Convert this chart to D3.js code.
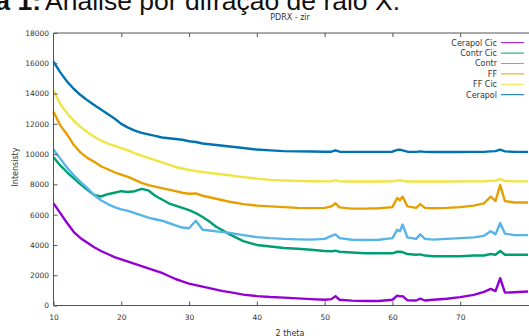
<!DOCTYPE html>
<html>
<head>
<meta charset="utf-8">
<script src="https://cdn.jsdelivr.net/npm/d3@7"></script>
<style>
  html, body { margin: 0; padding: 0; background: #fff; }
  svg { display: block; }
  text { font-family: "DejaVu Sans", sans-serif; fill: #333; }
</style>
</head>
<body>
<svg id="chart" width="529" height="336"></svg>
<script>
// 2 theta positions shared by every scan
const theta = [10, 11, 12, 13, 14, 15, 16, 17, 18, 19, 20, 21, 22, 23, 24, 25, 26, 27, 28, 29,
  30, 31, 32, 33, 34, 35, 36, 38, 40, 42, 44, 46, 48, 50, 51, 51.6, 52.2, 54, 56, 58,
  60, 60.7, 61.1, 61.5, 62.2, 63.5, 64.1, 64.8, 66, 68, 70, 72, 73.5, 74.5, 75.2, 75.9, 76.6, 78, 80];

const cerapolCic = [6750, 6100, 5450, 4850, 4450, 4150, 3850, 3600, 3400, 3200, 3050, 2900, 2750, 2600, 2450, 2300, 2150, 1950, 1750, 1600,
  1450, 1350, 1250, 1150, 1050, 950, 880, 720, 620, 560, 520, 470, 420, 380, 420, 620, 380, 320, 300, 300,
  380, 650, 600, 620, 350, 330, 450, 330, 380, 450, 550, 700, 900, 1100, 950, 1800, 850, 880, 920];
const contrCic = [9800, 9250, 8800, 8400, 8000, 7650, 7300, 7200, 7350, 7450, 7550, 7500, 7550, 7700, 7600, 7250, 7000, 6750, 6600, 6450,
  6300, 6100, 5850, 5550, 5200, 4950, 4700, 4250, 4000, 3900, 3800, 3750, 3680, 3600, 3580, 3620, 3550, 3500, 3450, 3450,
  3450, 3550, 3550, 3520, 3400, 3350, 3380, 3300, 3250, 3250, 3250, 3300, 3300, 3400, 3350, 3600, 3350, 3350, 3350];
const contr = [10300, 9700, 9100, 8600, 8150, 7750, 7300, 6950, 6700, 6500, 6350, 6250, 6100, 5950, 5800, 5700, 5600, 5450, 5300, 5150,
  5100, 5600, 5000, 4950, 4900, 4850, 4800, 4650, 4520, 4450, 4400, 4370, 4350, 4400, 4600, 4700, 4450, 4340, 4330, 4340,
  4450, 5000, 4900, 5350, 4500, 4400, 4700, 4400, 4350, 4400, 4450, 4500, 4600, 4900, 4700, 5450, 4750, 4650, 4650];
const ff = [12800, 11900, 11300, 10600, 10100, 9750, 9500, 9200, 9000, 8800, 8650, 8500, 8300, 8100, 7950, 7850, 7750, 7650, 7550, 7450,
  7380, 7400, 7250, 7150, 7050, 6950, 6850, 6700, 6600, 6550, 6500, 6450, 6430, 6450, 6550, 6750, 6480, 6400, 6400, 6420,
  6500, 7100, 6950, 7200, 6550, 6450, 6700, 6450, 6420, 6450, 6500, 6600, 6750, 7200, 6900, 7950, 6900, 6800, 6800];
const ffCic = [14200, 13300, 12700, 12200, 11800, 11450, 11150, 10900, 10700, 10550, 10400, 10250, 10050, 9900, 9750, 9600, 9450, 9300, 9150, 9050,
  8950, 8880, 8820, 8760, 8700, 8650, 8600, 8480, 8380, 8300, 8260, 8230, 8210, 8200, 8200, 8280, 8200, 8190, 8190, 8190,
  8200, 8250, 8280, 8230, 8190, 8190, 8200, 8190, 8190, 8190, 8200, 8200, 8210, 8230, 8250, 8350, 8220, 8200, 8200];
const cerapol = [16100, 15400, 14800, 14300, 13900, 13550, 13250, 12950, 12650, 12350, 12000, 11750, 11550, 11400, 11300, 11200, 11100, 11050, 11000, 10950,
  10850, 10800, 10700, 10650, 10600, 10550, 10500, 10400, 10300, 10250, 10200, 10180, 10170, 10160, 10160, 10250, 10160, 10150, 10150, 10150,
  10160, 10280, 10300, 10250, 10160, 10150, 10180, 10150, 10140, 10140, 10140, 10150, 10150, 10180, 10200, 10300, 10180, 10150, 10150];

const seriesNames = ['Cerapol  Cic', 'Contr Cic', 'Contr', 'FF', 'FF Cic', 'Cerapol'];
const seriesValues = [cerapolCic, contrCic, contr, ff, ffCic, cerapol];
const seriesColors = ['#9400d3', '#009e73', '#56b4e9', '#e69f00', '#f0e442', '#0072b2'];

const xTicks = [10, 20, 30, 40, 50, 60, 70];
const yTicks = [0, 2000, 4000, 6000, 8000, 10000, 12000, 14000, 16000, 18000];

const margin = {top: 33, right: 1, bottom: 30.5, left: 53.5};
const width = 529;
const height = 336;
const plotBottom = height - margin.bottom;

const svg = d3.select('#chart');

// caption above the plot (cut off at the top of the picture)
svg.append('text')
  .attr('x', 41).attr('y', 10)
  .attr('text-anchor', 'end')
  .style('font-family', '"Liberation Sans", Arial, sans-serif')
  .style('font-weight', 'bold')
  .style('font-size', '26.5px')
  .style('fill', '#111')
  .text('Figura 1:');
svg.append('text')
  .attr('x', 45).attr('y', 10)
  .style('font-family', '"Liberation Sans", Arial, sans-serif')
  .style('font-size', '26.5px')
  .style('fill', '#111')
  .text('Análise por difração de raio X.');

const x = d3.scaleLinear().domain([10, 80]).range([margin.left, 528]);
const y = d3.scaleLinear().domain([0, 18000]).range([plotBottom, margin.top]);

// plot lines
const line = d3.line()
  .x((d, i) => x(theta[i]))
  .y(d => y(d));

const lines = svg.append('g');
seriesValues.forEach((vals, k) => {
  lines.append('path')
    .datum(vals)
    .attr('fill', 'none')
    .attr('stroke', seriesColors[k])
    .attr('stroke-width', 2.4)
    .attr('stroke-linejoin', 'round')
    .attr('d', line);
});

// frame + axes
const frame = svg.append('g');
frame.append('path')
  .attr('d', `M${x(80) + 2},${margin.top}H${margin.left}V${plotBottom}H${x(80) + 2}`)
  .attr('fill', 'none')
  .attr('stroke', '#555')
  .attr('stroke-width', 1);

const yAxis = svg.append('g')
  .attr('transform', `translate(${margin.left},0)`)
  .call(d3.axisLeft(y).tickValues(yTicks).tickSize(-4).tickPadding(4.5).tickFormat(d3.format('d')));
const xAxis = svg.append('g')
  .attr('transform', `translate(0,${plotBottom})`)
  .call(d3.axisBottom(x).tickValues(xTicks).tickSize(-4).tickPadding(9).tickFormat(d3.format('d')));
const xTop = svg.append('g')
  .attr('transform', `translate(0,${margin.top})`)
  .call(d3.axisTop(x).tickValues(xTicks.slice(1)).tickSize(-4).tickFormat(''));

[yAxis, xAxis, xTop].forEach(g => {
  g.select('.domain').remove();
  g.selectAll('.tick line').attr('stroke', '#555');
  g.selectAll('.tick text')
    .style('font-family', '"DejaVu Sans", sans-serif')
    .style('font-size', '7.5px')
    .attr('fill', '#333');
});

// titles
svg.append('text')
  .attr('x', 290).attr('y', 20)
  .attr('text-anchor', 'middle')
  .style('font-size', '8px')
  .text('PDRX - zir');
svg.append('text')
  .attr('x', 290).attr('y', 336)
  .attr('text-anchor', 'middle')
  .style('font-size', '8px')
  .text('2 theta');
svg.append('text')
  .attr('transform', 'translate(18,167) rotate(-90)')
  .attr('text-anchor', 'middle')
  .style('font-size', '8px')
  .text('Intensisty');

// legend
const legend = svg.append('g');
seriesNames.forEach((name, k) => {
  const ly = 42.7 + k * 10.4;
  legend.append('text')
    .attr('x', 497).attr('y', ly)
    .attr('dy', '0.35em')
    .attr('text-anchor', 'end')
    .style('font-size', '8px')
    .text(name);
  legend.append('line')
    .attr('x1', 501).attr('x2', 524)
    .attr('y1', ly).attr('y2', ly)
    .attr('stroke', seriesColors[k])
    .attr('stroke-width', 1);
});
</script>
</body>
</html>
